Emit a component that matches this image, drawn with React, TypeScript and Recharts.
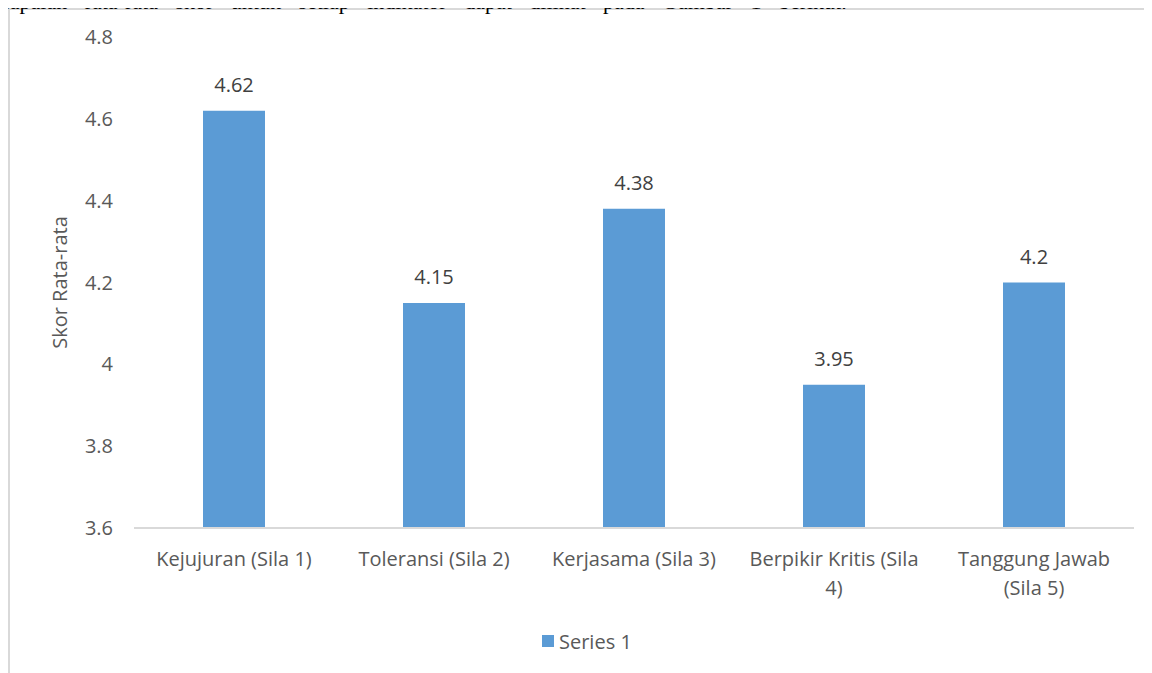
import React from "react";
import {
  BarChart,
  Bar,
  XAxis,
  YAxis,
  Legend,
  LabelList,
} from "recharts";

const categories = [
  "Kejujuran (Sila 1)",
  "Toleransi (Sila 2)",
  "Kerjasama (Sila 3)",
  "Berpikir Kritis (Sila 4)",
  "Tanggung Jawab (Sila 5)",
];
const tickLines = [
  ["Kejujuran (Sila 1)"],
  ["Toleransi (Sila 2)"],
  ["Kerjasama (Sila 3)"],
  ["Berpikir Kritis (Sila", "4)"],
  ["Tanggung Jawab", "(Sila 5)"],
];
const series1 = [4.62, 4.15, 4.38, 3.95, 4.2];
const yTicks = [3.6, 3.8, 4, 4.2, 4.4, 4.6, 4.8];

const data = categories.map((name, i) => ({ name, value: series1[i] }));

const FONT = "'Open Sans', 'Noto Sans', sans-serif";
const BAR_COLOR = "#5b9bd5";

const CategoryTick = (props: any) => {
  const { x, y, index } = props;
  const lines = tickLines[index] || [String(props.payload.value)];
  return (
    <g transform={`translate(${x},${y})`}>
      {lines.map((l, i) => (
        <text
          key={i}
          x={0}
          y={30 + i * 29}
          textAnchor="middle"
          fill="#595959"
          fontSize={20}
          fontFamily={FONT}
        >
          {l}
        </text>
      ))}
    </g>
  );
};

const LegendContent = () => (
  <div
    style={{
      display: "flex",
      alignItems: "center",
      height: 24,
      fontFamily: FONT,
      fontSize: 20,
      color: "#595959",
    }}
  >
    <span
      style={{
        display: "inline-block",
        width: 12,
        height: 12,
        background: BAR_COLOR,
        marginRight: 5,
      }}
    />
    Series 1
  </div>
);

const App: React.FC = () => {
  return (
    <div style={{ position: "relative", width: 1144, height: 665 }}>
      <div
        style={{
          position: "absolute",
          left: 0,
          top: 0,
          width: 1160,
          height: 680,
          border: "2px solid #d9d9d9",
          boxSizing: "border-box",
          background: "#fff",
        }}
      />
      <div
        style={{
          position: "absolute",
          left: -8,
          top: -19,
          fontFamily: "'Liberation Serif', serif",
          fontSize: 22,
          lineHeight: "25px",
          wordSpacing: 12,
          color: "#000",
          whiteSpace: "nowrap",
        }}
      >
        capaian rata-rata skor untuk setiap indikator dapat dilihat pada Gambar 1 berikut.
      </div>
      <div style={{ position: "absolute", left: 0, top: 0 }}>
        <BarChart
          width={1144}
          height={665}
          data={data}
          barSize={62}
          margin={{ top: 29, right: 18, left: 46, bottom: 41 }}
        >
          <XAxis
            dataKey="name"
            interval={0}
            tickLine={false}
            axisLine={{ stroke: "#d9d9d9", strokeWidth: 2 }}
            tick={<CategoryTick />}
            height={80}
          />
          <YAxis
            domain={[3.6, 4.8]}
            ticks={yTicks}
            width={80}
            axisLine={false}
            tickLine={false}
            tickSize={0}
            tickMargin={21}
            tick={{ fill: "#595959", fontSize: 20, fontFamily: FONT }}
            label={{
              value: "Skor Rata-rata",
              angle: -90,
              position: "insideLeft",
              offset: 6,
              style: {
                fill: "#595959",
                fontSize: 20,
                fontFamily: FONT,
                textAnchor: "middle",
              },
            }}
          />
          <Legend
            verticalAlign="bottom"
            content={<LegendContent />}
            wrapperStyle={{ left: 534, width: "auto", bottom: 20 }}
          />
          <Bar
            dataKey="value"
            name="Series 1"
            fill={BAR_COLOR}
            isAnimationActive={false}
          >
            <LabelList
              dataKey="value"
              position="top"
              offset={19}
              fill="#404040"
              fontSize={20}
              fontFamily={FONT}
            />
          </Bar>
        </BarChart>
      </div>
    </div>
  );
};

export default App;
